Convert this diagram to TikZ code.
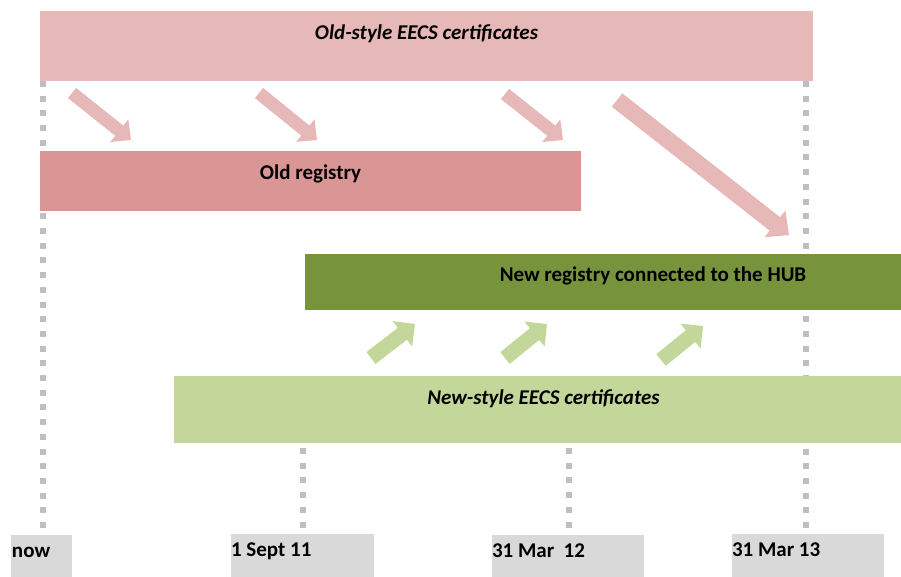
\documentclass[tikz,border=0pt]{standalone}
\usepackage{fontspec}
\setmainfont{Carlito}
\usetikzlibrary{calc}
\definecolor{oldcert}{HTML}{E6B8B7}
\definecolor{oldregc}{HTML}{DA9694}
\definecolor{newregc}{HTML}{77933C}
\definecolor{newcert}{HTML}{C4D79B}
\definecolor{datebox}{HTML}{D9D9D9}
\definecolor{dotgray}{HTML}{BFBFBF}
% tail, tip, shaft half width, head half width, head length, colour
\newcommand\blockarrow[6]{%
  \coordinate (#2-base) at ($(#2)!#5!(#1)$);
  \fill[#6] ($(#1)!#3!90:(#2)$) -- ($(#2-base)!#3!90:(#2)$) -- ($(#2-base)!#4!90:(#2)$)
    -- (#2) -- ($(#2-base)!#4!-90:(#2)$) -- ($(#2-base)!#3!-90:(#2)$) -- ($(#1)!#3!-90:(#2)$) -- cycle;
}
\tikzset{
  every node/.style={inner sep=0pt, outer sep=0pt},
  bar/.style={rectangle, anchor=north west},
  bartext/.style={font=\fontsize{21}{25}\selectfont\bfseries, anchor=base, text=black},
  datetext/.style={font=\fontsize{21}{25}\selectfont\bfseries, anchor=base west, text=black},
  datebar/.style={rectangle, anchor=north west, fill=datebox, minimum height=60pt},
  dotline/.style={draw=dotgray, line width=6pt, dash pattern=on 6pt off 8.7pt},
}
\begin{document}
\begin{tikzpicture}[x=1pt,y=-1pt]
\useasboundingbox (0,0) rectangle (901,577);
\clip (0,0) rectangle (901,577);
% dotted time markers
\coordinate (d1a) at (43,81);  \coordinate (d1b) at (43,528);
\coordinate (d2a) at (303,448); \coordinate (d2b) at (303,528);
\coordinate (d3a) at (569,448); \coordinate (d3b) at (569,528);
\coordinate (d4a) at (806,81); \coordinate (d4b) at (806,528);
\draw[dotline] (d1a) -- (d1b);
\draw[dotline] (d2a) -- (d2b);
\draw[dotline] (d3a) -- (d3b);
\draw[dotline] (d4a) -- (d4b);
% bars
\node[bar, fill=oldcert, minimum width=773pt, minimum height=70pt] (oldcertbar) at (40,11) {};
\node[bar, fill=oldregc, minimum width=541pt, minimum height=60pt] (oldregbar) at (40,151) {};
\node[bar, fill=newregc, minimum width=696pt, minimum height=56pt] (newregbar) at (305,254) {};
\node[bar, fill=newcert, minimum width=739pt, minimum height=67pt] (newcertbar) at (174,376) {};
\node[bartext] (oldcerttxt) at (426.5,40) {\itshape Old-style EECS certificates};
\node[bartext] (oldregtxt) at (310.5,180) {Old registry};
\node[bartext] (newregtxt) at (653,281) {New registry connected to the HUB};
\node[bartext] (newcerttxt) at (543.5,404) {\itshape New-style EECS certificates};
% date boxes
\node[datebar, minimum width=61pt] (nowbox) at (11,535) {};
\node[datebar, minimum width=143pt] (septbox) at (231,534) {};
\node[datebar, minimum width=152pt] (mar12box) at (492,535) {};
\node[datebar, minimum width=152pt] (mar13box) at (732,534) {};
\node[datetext] (nowtxt) at (12,557) {now};
\node[datetext] (septtxt) at (231,556) {1 Sept 11};
\node[datetext] (mar12txt) at (492,557) {31 Mar~~12};
\node[datetext] (mar13txt) at (732,556) {31 Mar 13};
% pink arrows
\coordinate (p1s) at (72,93);  \coordinate (p1e) at (131,140);
\coordinate (p2s) at (259,93); \coordinate (p2e) at (317,140);
\coordinate (p3s) at (505,94); \coordinate (p3e) at (563,140);
\coordinate (p4s) at (617,100); \coordinate (p4e) at (789,235);
\blockarrow{p1s}{p1e}{6.5pt}{14.5pt}{15pt}{oldcert}
\blockarrow{p2s}{p2e}{6.5pt}{14.5pt}{15pt}{oldcert}
\blockarrow{p3s}{p3e}{6.5pt}{14.5pt}{15pt}{oldcert}
\blockarrow{p4s}{p4e}{8.5pt}{17pt}{18pt}{oldcert}
% green arrows
\coordinate (g1s) at (371,358); \coordinate (g1e) at (415,324);
\coordinate (g2s) at (505,358); \coordinate (g2e) at (547,324);
\coordinate (g3s) at (661,360); \coordinate (g3e) at (703,326);
\blockarrow{g1s}{g1e}{7.5pt}{16pt}{16pt}{newcert}
\blockarrow{g2s}{g2e}{7.5pt}{16pt}{16pt}{newcert}
\blockarrow{g3s}{g3e}{7.5pt}{16pt}{16pt}{newcert}
\end{tikzpicture}
\end{document}
